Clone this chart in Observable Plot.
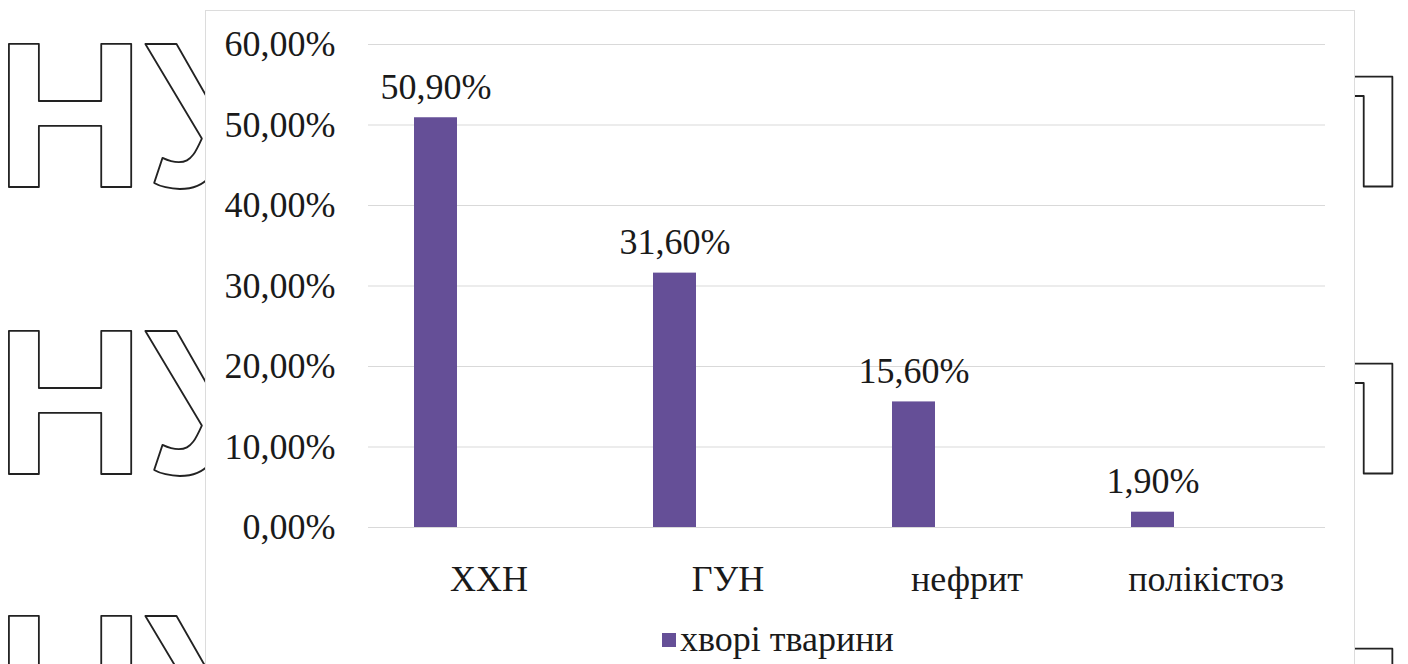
<!DOCTYPE html>
<html>
<head>
<meta charset="utf-8">
<script src="https://cdn.jsdelivr.net/npm/d3@7"></script>
<script src="https://cdn.jsdelivr.net/npm/@observablehq/plot@0.6"></script>
</head>
<body style="margin:0;padding:0;background:#fff">
<div id="page" style="position:relative;width:1408px;height:664px;overflow:hidden;background:#fff">
  <svg id="markL" width="205" height="664" style="position:absolute;left:0;top:0"></svg>
  <svg id="markR" width="53" height="664" style="position:absolute;left:1355px;top:0"></svg>
  <div id="panel" style="position:absolute;left:205px;top:10px;width:1150px;height:700px;background:#fff;border:1px solid #dcdcdc;box-sizing:border-box"></div>
  <div id="chart" style="position:absolute;left:0;top:0"></div>
  <div id="legend" style="position:absolute;left:662px;top:621px;font-size:36px;line-height:36px;color:#1a1a1a;white-space:nowrap">
    <span id="sw" style="position:absolute;left:0;top:12px;width:14px;height:14px"></span>
    <span id="lb" style="position:absolute;left:18px;top:0"></span>
  </div>
</div>
<script>
// Share of diagnoses among sick animals
const categories = ["ХХН", "ГУН", "нефрит", "полікістоз"];
const values = [0.509, 0.316, 0.156, 0.019];
const seriesName = "хворі тварини";
const yTicks = [0, 0.1, 0.2, 0.3, 0.4, 0.5, 0.6];
const barColor = "#654f97";
const inkColor = "#1a1a1a";
const serif = "'Liberation Serif', 'Times New Roman', Times, serif";

const data = categories.map((c, i) => ({category: c, value: values[i]}));
const pct = v => (v * 100).toFixed(2).replace(".", ",") + "%";

// Outlined lettering in the page margins
const ns = "http://www.w3.org/2000/svg";
function outline(svg, str, x, baseline, anchor) {
  const t = document.createElementNS(ns, "text");
  t.setAttribute("x", x);
  t.setAttribute("y", baseline);
  t.setAttribute("text-anchor", anchor);
  t.setAttribute("font-weight", "bold");
  t.setAttribute("font-size", "208");
  t.setAttribute("fill", "#fff");
  t.setAttribute("stroke", "#222");
  t.setAttribute("stroke-width", "1.8");
  t.setAttribute("stroke-linejoin", "round");
  t.style.setProperty("font-family", "'Liberation Sans', Arial, sans-serif", "important");
  t.textContent = str;
  svg.appendChild(t);
}
const markL = document.getElementById("markL");
const markR = document.getElementById("markR");
for (const b of [187, 474, 759]) {
  outline(markL, "НУ", -5, b, "start");
  outline(markR, "п", 52, b, "end");
}

const chart = Plot.plot({
  width: 1408,
  height: 607,
  marginLeft: 368,
  marginRight: 83,
  marginTop: 44,
  marginBottom: 80,
  style: {fontSize: "36px", color: inkColor, background: "transparent"},
  x: {domain: categories, padding: 0},
  y: {domain: [0, 0.6]},
  marks: [
    Plot.gridY(yTicks, {stroke: "#d9d9d9", strokeOpacity: 1, strokeWidth: 1.2}),
    Plot.axisY({ticks: yTicks, tickFormat: pct, tickSize: 0, tickPadding: 33, label: null, fill: inkColor}),
    Plot.axisX({tickSize: 0, tickPadding: 38, label: null, fill: inkColor}),
    Plot.barY(data, {x: "category", y: "value", fill: barColor, insetLeft: 45, insetRight: 151}),
    Plot.text(data, {x: "category", y: "value", text: d => pct(d.value), dx: -53, dy: -19,
                     lineAnchor: "bottom", fill: inkColor})
  ]
});
document.getElementById("chart").appendChild(chart);

document.getElementById("sw").style.background = barColor;
document.getElementById("lb").textContent = seriesName;

// Serif face for every chart and legend label
function applySerif() {
  const nodes = [chart, ...chart.querySelectorAll("g, text, tspan"),
                 document.getElementById("legend"), document.getElementById("lb")];
  for (const n of nodes) {
    n.setAttribute("font-family", serif);
    n.style.setProperty("font-family", serif, "important");
  }
}
applySerif();
window.addEventListener("load", applySerif);
requestAnimationFrame(applySerif);
</script>
</body>
</html>
